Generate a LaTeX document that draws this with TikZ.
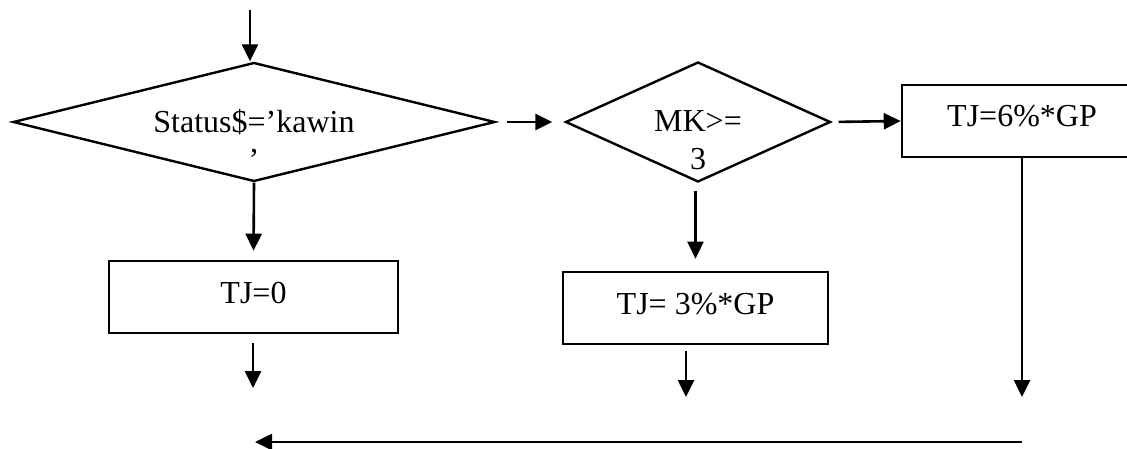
\documentclass[tikz,border=0pt]{standalone}
\usepackage{fontspec}
\setmainfont{Liberation Serif}
\usetikzlibrary{shapes.geometric,arrows.meta}
\begin{document}
\begin{tikzpicture}[x=1pt,y=-1pt,
  line width=2.6pt,
  every node/.style={font=\fontsize{32}{38}\selectfont, inner sep=0pt},
  arr/.style={draw, -{Triangle[length=17pt,width=16pt]}},
  decision/.style={draw, diamond, line width=2.4pt},
  procbox/.style={draw, rectangle, line width=2.6pt, minimum height=72pt,
                  text height=22pt, text depth=10pt},
  lbl/.style={align=center, anchor=base}]
  \useasboundingbox (0,0) rectangle (1127,449);
  \clip (0,0) rectangle (1127,449);

  % decisions (label nodes are anchored at the baseline of their last line)
  \node[decision, minimum width=482pt, minimum height=119pt] (d1) at (254,122) {};
  \node[lbl] (t1) at (254,171) {Status\$=’kawin\\’};
  \node[decision, minimum width=265pt, minimum height=120pt] (d2) at (698,122) {};
  \node[lbl] (t2) at (698,170) {MK>=\\3};

  % process boxes
  \node[procbox, minimum width=289pt] (b1) at (253.5,297) {TJ=0};
  \node[procbox, minimum width=265pt] (b2) at (695.5,308) {TJ= 3\%*GP};
  \node[procbox, minimum width=240pt] (b3) at (1022,121) {TJ=6\%*GP};

  % free ends
  \coordinate (in) at (250,10);
  \coordinate (o1) at (253,388);
  \coordinate (o2) at (686,397);
  \coordinate (o3) at (1022,397);
  \coordinate (r) at (1022,442);
  \coordinate (l) at (255,442);

  % connectors
  \draw[arr] (in) -- (in |- d1.north);
  \draw[arr, shorten <=11pt, shorten >=12pt] (d1.east) -- (d2.west);
  \draw[arr, shorten <=7pt] (d2.east) -- (b3.west);
  \draw[arr, shorten >=9pt] (d1.south) -- (b1.north);
  \draw[arr, shorten <=8pt, shorten >=12pt] (d2.south -| b2.north) -- (b2.north);
  \draw[arr, shorten <=9pt] (b1.south -| o1) -- (o1);
  \draw[arr, shorten <=6pt] (b2.south -| o2) -- (o2);
  \draw[arr] (b3.south -| o3) -- (o3);
  \draw[arr] (r) -- (l);
\end{tikzpicture}
\end{document}
